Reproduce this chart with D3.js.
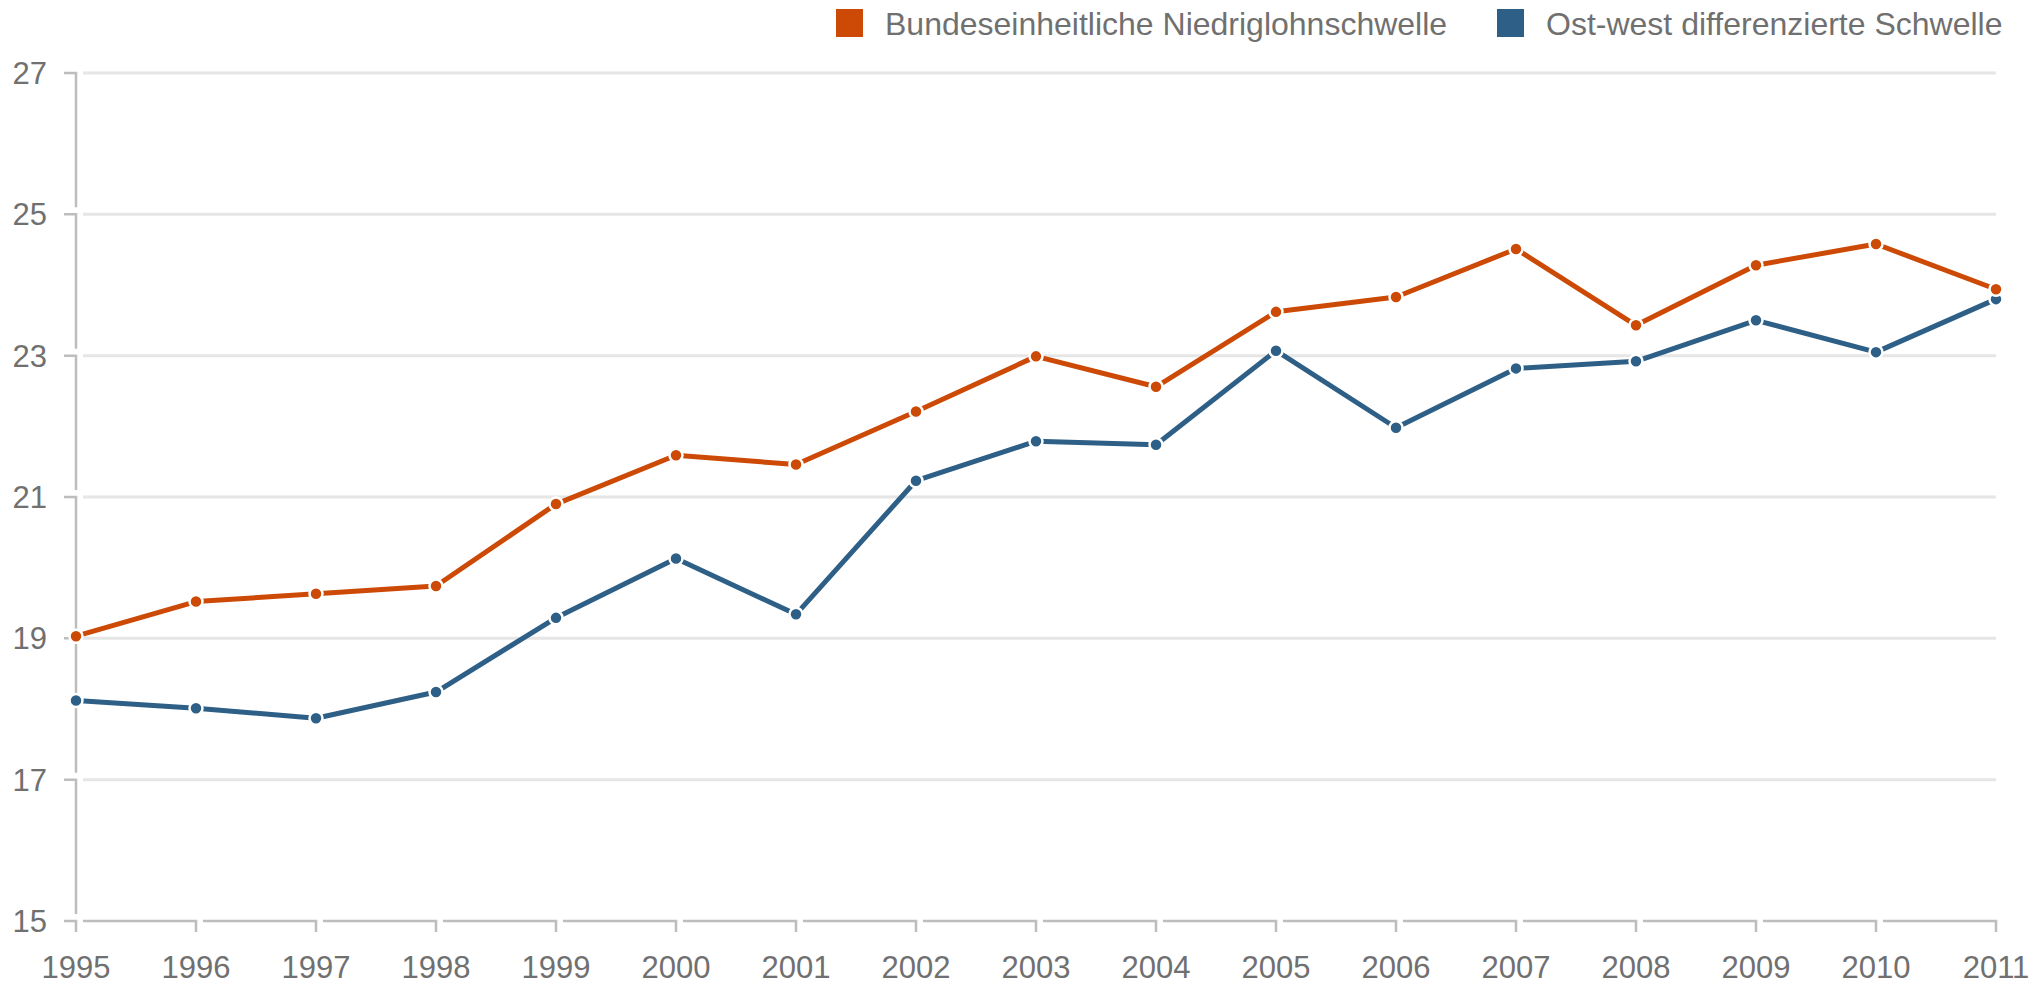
<!DOCTYPE html>
<html>
<head>
<meta charset="utf-8">
<script src="https://cdn.jsdelivr.net/npm/d3@7"></script>
<style>
  html, body { margin: 0; padding: 0; background: #fff; }
  text { font-family: "Liberation Sans", Arial, sans-serif; fill: #707070; }
</style>
</head>
<body>
<div class="result"></div>
<script>
const years = [1995, 1996, 1997, 1998, 1999, 2000, 2001, 2002, 2003, 2004, 2005, 2006, 2007, 2008, 2009, 2010, 2011];
const bundesweit = [19.03, 19.52, 19.63, 19.74, 20.9, 21.59, 21.46, 22.21, 22.99, 22.56, 23.62, 23.83, 24.51, 23.43, 24.28, 24.58, 23.94];
const ostWest = [18.12, 18.01, 17.87, 18.24, 19.29, 20.13, 19.34, 21.23, 21.79, 21.74, 23.07, 21.98, 22.82, 22.92, 23.5, 23.05, 23.8];
const yTicks = [15, 17, 19, 21, 23, 25, 27];
const seriesNames = ['Bundeseinheitliche Niedriglohnschwelle', 'Ost-west differenzierte Schwelle'];
const colors = ['#cc4a06', '#2e5f86'];

const w = 2038;
const h = 984;
const gap = 7;

const x = d3.scaleLinear()
  .domain([1995, 2011])
  .range([76, 1996]);

const y = d3.scaleLinear()
  .domain([15, 27])
  .range([921, 73]);

const svg = d3.select('.result')
  .append('svg')
  .attr('width', w)
  .attr('height', h);

// grid lines
svg.selectAll('line.grid')
  .data(yTicks.slice(1))
  .enter()
  .append('line')
  .attr('class', 'grid')
  .attr('x1', x(1995) + gap)
  .attr('x2', x(2011))
  .attr('y1', d => y(d))
  .attr('y2', d => y(d))
  .attr('stroke', '#e6e6e6')
  .attr('stroke-width', 3);

// y axis: tick + vertical segment down to the next tick
svg.selectAll('path.ytick')
  .data(yTicks)
  .enter()
  .append('path')
  .attr('class', 'ytick')
  .attr('d', d => {
    const bottom = d === 15 ? y(15) + 11 : y(d - 2) - gap;
    return 'M' + (x(1995) - 12) + ',' + y(d) + 'H' + x(1995) + 'V' + bottom;
  })
  .attr('fill', 'none')
  .attr('stroke', '#bdbdbd')
  .attr('stroke-width', 2.5);

// x axis: horizontal segment from previous tick + tick down
svg.selectAll('path.xtick')
  .data(years.slice(1))
  .enter()
  .append('path')
  .attr('class', 'xtick')
  .attr('d', d => 'M' + (x(d - 1) + gap) + ',' + y(15) + 'H' + x(d) + 'V' + (y(15) + 11))
  .attr('fill', 'none')
  .attr('stroke', '#bdbdbd')
  .attr('stroke-width', 2.5);

// tick labels
svg.selectAll('text.ylabel')
  .data(yTicks)
  .enter()
  .append('text')
  .attr('class', 'ylabel')
  .attr('x', 47)
  .attr('y', d => y(d) + 11)
  .attr('text-anchor', 'end')
  .style('font-size', '31px')
  .text(d => d);

svg.selectAll('text.xlabel')
  .data(years)
  .enter()
  .append('text')
  .attr('class', 'xlabel')
  .attr('x', d => x(d))
  .attr('y', 978)
  .attr('text-anchor', 'middle')
  .style('font-size', '31px')
  .text(d => d);

// lines and markers
const line = d3.line()
  .x((d, i) => x(years[i]))
  .y(d => y(d));

[bundesweit, ostWest].forEach((values, k) => {
  svg.append('path')
    .datum(values)
    .attr('d', line)
    .attr('fill', 'none')
    .attr('stroke', colors[k])
    .attr('stroke-width', 5)
    .attr('stroke-linejoin', 'round');
});

[ostWest, bundesweit].forEach(values => {
  const k = values === bundesweit ? 0 : 1;
  svg.append('g')
    .selectAll('circle')
    .data(values)
    .enter()
    .append('circle')
    .attr('cx', (d, i) => x(years[i]))
    .attr('cy', d => y(d))
    .attr('r', 6.5)
    .attr('fill', colors[k])
    .attr('stroke', '#fff')
    .attr('stroke-width', 2.5);
});

// legend
const legendX = [836, 1497];
const legend = svg.selectAll('g.legend')
  .data(seriesNames)
  .enter()
  .append('g')
  .attr('class', 'legend')
  .attr('transform', (d, i) => 'translate(' + legendX[i] + ',9)');

legend.append('rect')
  .attr('width', 27)
  .attr('height', 28)
  .attr('fill', (d, i) => colors[i]);

legend.append('text')
  .attr('x', 49)
  .attr('y', 26)
  .style('font-size', '32px')
  .text(d => d);
</script>
</body>
</html>
